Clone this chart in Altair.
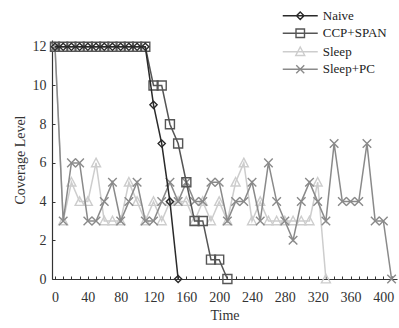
import altair as alt
import pandas as pd

# ---------------- data ----------------
series_names = ["Naive", "CCP+SPAN", "Sleep", "Sleep+PC"]
time_values = [0, 10, 20, 30, 40, 50, 60, 70, 80, 90, 100, 110, 120, 130,
               140, 150, 160, 170, 180, 190, 200, 210, 220, 230, 240, 250,
               260, 270, 280, 290, 300, 310, 320, 330, 340, 350, 360, 370,
               380, 390, 400, 410]
naive = [12, 12, 12, 12, 12, 12, 12, 12, 12, 12, 12, 12, 9, 7, 4, 0]
ccp_span = [12, 12, 12, 12, 12, 12, 12, 12, 12, 12, 12, 12, 10, 10, 8, 7,
            5, 3, 3, 1, 1, 0]
sleep = [12, 3, 5, 4, 4, 6, 3, 3, 3, 5, 4, 3, 4, 3, 4, 4, 4, 3, 4, 3, 4, 3,
         5, 6, 3, 4, 3, 3, 3, 3, 3, 3, 5, 0]
sleep_pc = [12, 3, 6, 6, 3, 3, 4, 5, 3, 4, 5, 3, 3, 4, 5, 4, 5, 4, 4, 5, 5,
            3, 4, 4, 5, 3, 6, 4, 3, 2, 4, 5, 4, 3, 7, 4, 4, 4, 7, 3, 3, 0]
x_label_values = [0, 40, 80, 120, 160, 200, 240, 280, 320, 360, 400]
x_minor_ticks = time_values
y_tick_values = [0, 2, 4, 6, 8, 10, 12]

series_values = {"Naive": naive, "CCP+SPAN": ccp_span,
                 "Sleep": sleep, "Sleep+PC": sleep_pc}

rows = []
for name in series_names:
    for t, v in zip(time_values, series_values[name]):
        rows.append({"series": name, "time": t, "value": v})
df = pd.DataFrame(rows)

# ---------------- style ----------------
FONT = "Liberation Serif"
series_colors = ["#2a2a2a", "#555555", "#cdcdcd", "#8a8a8a"]
marker_paths = {
    "Naive": "M0,-0.8L0.8,0L0,0.8L-0.8,0Z",
    "CCP+SPAN": "M-1,-1H1V1H-1Z",
    "Sleep": "M0,-1.05L1,0.85H-1Z",
    "Sleep+PC": "M-0.95,-0.95L0.95,0.95M-0.95,0.95L0.95,-0.95",
}
legend_paths = [
    "M-3.5,0H3.5M0,-0.75L0.75,0L0,0.75L-0.75,0Z",
    "M-3.5,0H3.5M-0.85,-0.85H0.85V0.85H-0.85Z",
    "M-3.5,0H3.5M0,-0.95L0.9,0.75H-0.9Z",
    "M-3.5,0H3.5M-0.8,-0.8L0.8,0.8M-0.8,0.8L0.8,-0.8",
]
W, H = 345, 239
xscale = alt.Scale(domain=[-3.65, 416.6], nice=False, zero=False)
yscale = alt.Scale(domain=[0, 12.35], nice=False, zero=False)
cscale = alt.Scale(domain=series_names, range=series_colors)

base = alt.Chart(df)

main_x_axis = alt.Axis(values=x_label_values, ticks=False, tickSize=0,
                       labelPadding=11, title="Time", titlePadding=4,
                       grid=False)
main_y_axis = alt.Axis(values=y_tick_values, ticks=False, tickSize=0,
                       labelPadding=6, title="Coverage Level", titlePadding=5,
                       grid=False)
tick_x_axis = alt.Axis(orient="top", offset=-H, values=x_minor_ticks,
                       labels=False, domain=False, ticks=True, tickSize=3,
                       title=None, grid=False)
tick_y_axis = alt.Axis(orient="right", offset=-W, values=y_tick_values,
                       labels=False, domain=False, ticks=True, tickSize=3,
                       title=None, grid=False)

leg = alt.Legend(orient="none", legendX=241.75, legendY=-30.75, title=None,
                 symbolSize=100, symbolStrokeWidth=1.4, labelFont=FONT,
                 labelFontSize=13, labelColor="#222222", labelOffset=16,
                 rowPadding=2.5, padding=0)

legend_layer = base.transform_filter("datum.value < -100").mark_point(
    filled=False, strokeWidth=1.4, opacity=1
).encode(
    x=alt.X("time:Q", scale=xscale, axis=tick_x_axis),
    y=alt.Y("value:Q", scale=yscale, axis=tick_y_axis),
    color=alt.Color("series:N", scale=cscale, legend=leg),
    shape=alt.Shape("series:N",
                    scale=alt.Scale(domain=series_names, range=legend_paths),
                    legend=leg),
)

layers = [legend_layer]
draw_order = ["Sleep", "Sleep+PC", "CCP+SPAN", "Naive"]
for k, name in enumerate(draw_order):
    xa = main_x_axis if k == 0 else None
    ya = main_y_axis if k == 0 else None
    sub = base.transform_filter(alt.datum.series == name)
    line = sub.mark_line(strokeWidth=1.5).encode(
        x=alt.X("time:Q", scale=xscale, axis=xa),
        y=alt.Y("value:Q", scale=yscale, axis=ya),
        color=alt.Color("series:N", scale=cscale, legend=None),
    )
    pts = sub.mark_point(shape=marker_paths[name], size=81, filled=False,
                         strokeWidth=1.4, opacity=1).encode(
        x=alt.X("time:Q", scale=xscale, axis=None),
        y=alt.Y("value:Q", scale=yscale, axis=None),
        color=alt.Color("series:N", scale=cscale, legend=None),
    )
    layers += [line, pts]

chart = alt.layer(*layers).resolve_axis(
    x="independent", y="independent"
).properties(
    width=W, height=H,
    padding={"left": 52, "top": 40, "right": 2, "bottom": 49},
    autosize=alt.AutoSizeParams(type="none"),
    background="white",
).configure_view(stroke=None).configure_axis(
    labelFont=FONT, titleFont=FONT, labelFontSize=14, titleFontSize=14,
    labelColor="#333333", titleColor="#333333", titleFontWeight="normal",
    domainColor="#333333", tickColor="#333333", domainWidth=1.2,
    tickWidth=1,
)

chart.save("out.html", embed_options={"renderer": "svg", "actions": False})
